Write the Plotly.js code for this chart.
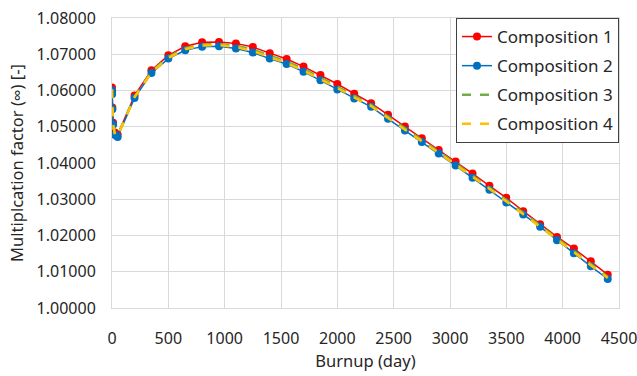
<!DOCTYPE html>
<html>
<head>
<meta charset="utf-8">
<script src="https://cdn.plot.ly/plotly-3.0.1.min.js"></script>
<style>html,body{margin:0;padding:0;background:#fff;}#chart{width:637px;height:376px;}</style>
</head>
<body>
<div id="chart"></div>
<script>
const burnupDays = [0, 1, 3, 10, 25, 50, 200, 350, 500, 650, 800, 950, 1100, 1250, 1400, 1550, 1700, 1850, 2000, 2150, 2300, 2450, 2600, 2750, 2900, 3050, 3200, 3350, 3500, 3650, 3800, 3950, 4100, 4250, 4400];
const composition1 = [1.0608, 1.0597, 1.0553, 1.0511, 1.0484, 1.0478, 1.0586, 1.0656, 1.0697, 1.0722, 1.0733, 1.0734, 1.0730, 1.0720, 1.0703, 1.0687, 1.0666, 1.0643, 1.0618, 1.0591, 1.0565, 1.0533, 1.0501, 1.0468, 1.0436, 1.0404, 1.0371, 1.0337, 1.0304, 1.0267, 1.0231, 1.0196, 1.0164, 1.0129, 1.0092];
const composition2 = [1.0601, 1.0590, 1.0548, 1.0506, 1.0478, 1.0472, 1.0579, 1.0648, 1.0688, 1.0711, 1.0721, 1.0722, 1.0716, 1.0705, 1.0688, 1.0673, 1.0652, 1.0628, 1.0603, 1.0578, 1.0555, 1.0522, 1.0490, 1.0458, 1.0426, 1.0393, 1.0359, 1.0326, 1.0291, 1.0258, 1.0224, 1.0187, 1.0151, 1.0115, 1.0080];
const composition3 = [1.0605, 1.0594, 1.0551, 1.0509, 1.0481, 1.0476, 1.0583, 1.0652, 1.0693, 1.0717, 1.0727, 1.0728, 1.0724, 1.0713, 1.0696, 1.0680, 1.0659, 1.0636, 1.0611, 1.0585, 1.0560, 1.0528, 1.0496, 1.0463, 1.0431, 1.0399, 1.0365, 1.0332, 1.0298, 1.0263, 1.0228, 1.0192, 1.0158, 1.0122, 1.0086];
const composition4 = [1.0603, 1.0592, 1.0549, 1.0507, 1.0479, 1.0474, 1.0581, 1.0650, 1.0690, 1.0714, 1.0724, 1.0725, 1.0720, 1.0709, 1.0692, 1.0676, 1.0655, 1.0632, 1.0607, 1.0581, 1.0557, 1.0524, 1.0493, 1.0460, 1.0428, 1.0396, 1.0362, 1.0329, 1.0294, 1.0260, 1.0226, 1.0189, 1.0154, 1.0118, 1.0083];
const seriesNames = ['Composition 1', 'Composition 2', 'Composition 3', 'Composition 4'];
const xTicks = [0, 500, 1000, 1500, 2000, 2500, 3000, 3500, 4000, 4500];
const yTicks = [1.00, 1.01, 1.02, 1.03, 1.04, 1.05, 1.06, 1.07, 1.08];

const FONT = 'Noto Sans, Open Sans, sans-serif';
const traces = [
  {x: burnupDays, y: composition1, name: seriesNames[0], mode: 'lines+markers',
   line: {color: '#FF0000', width: 1.5}, marker: {color: '#FF0000', size: 8}, legendgroup: 'a'},
  {x: burnupDays, y: composition2, name: seriesNames[1], mode: 'lines+markers',
   line: {color: '#0070C0', width: 1.5}, marker: {color: '#0070C0', size: 8}, legendgroup: 'b'},
  {x: burnupDays, y: composition3, name: seriesNames[2], mode: 'lines',
   line: {color: '#70AD47', width: 2.5, dash: 'dash'}, legendgroup: 'c'},
  {x: burnupDays, y: composition4, name: seriesNames[3], mode: 'lines',
   line: {color: '#FFC000', width: 2.5, dash: 'dash'}, legendgroup: 'd'}
];

const layout = {
  width: 637, height: 376,
  margin: {l: 112, r: 18, t: 18, b: 67.5, autoexpand: false},
  paper_bgcolor: '#fff', plot_bgcolor: '#fff',
  font: {family: FONT, size: 16, color: '#262626'},
  showlegend: true,
  legend: {x: 1, xanchor: 'right', y: 1, yanchor: 'top', bgcolor: '#fff',
    bordercolor: '#404040', borderwidth: 1, font: {family: FONT, size: 17, color: '#262626'},
    tracegroupgap: 4},
  xaxis: {range: [0, 4500], tickvals: xTicks, ticktext: xTicks.map(String),
    showgrid: true, gridcolor: '#d9d9d9', zeroline: false,
    showline: true, linecolor: '#d9d9d9', mirror: true,
    ticks: 'outside', ticklen: 16, tickcolor: 'rgba(0,0,0,0)',
    ticklabeloverflow: 'allow',
    tickfont: {family: FONT, size: 16, color: '#262626'},
    title: {text: 'Burnup (day)', font: {family: FONT, size: 16.5, color: '#262626'}, standoff: 4},
    automargin: false},
  yaxis: {range: [1.0, 1.08], tickvals: yTicks, tickformat: '.5f',
    showgrid: true, gridcolor: '#d9d9d9', zeroline: false,
    showline: true, linecolor: '#d9d9d9', mirror: true,
    ticks: 'outside', ticklen: 12, tickcolor: 'rgba(0,0,0,0)',
    ticklabeloverflow: 'allow',
    tickfont: {family: FONT, size: 16, color: '#262626'},
    title: {text: 'Multiplcation factor (\u221E) [-]', font: {family: FONT, size: 16.5, color: '#262626'}, standoff: 8},
    automargin: false}
};

Plotly.newPlot('chart', traces, layout, {staticPlot: true, displayModeBar: false});
</script>
</body>
</html>
